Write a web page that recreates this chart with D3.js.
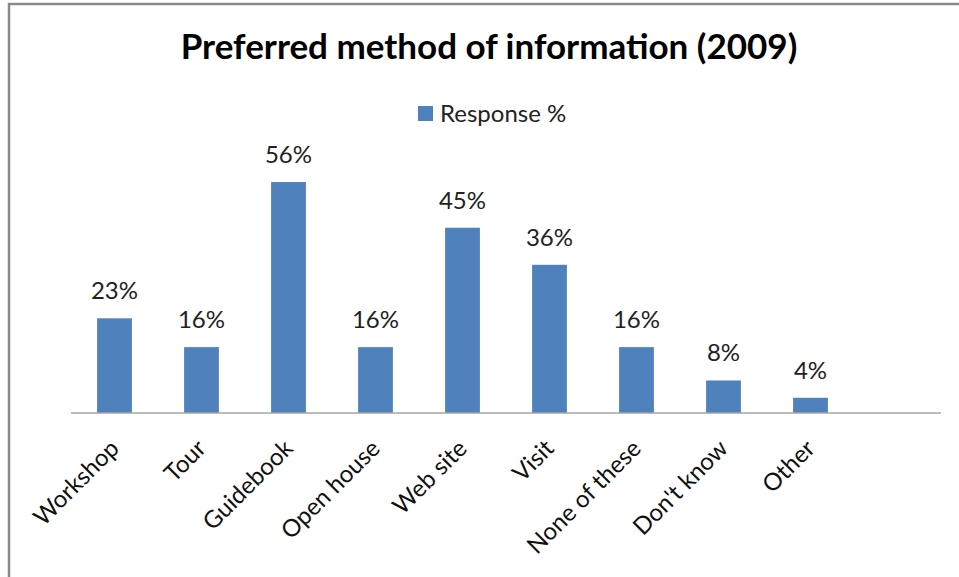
<!DOCTYPE html>
<html>
<head>
<meta charset="utf-8">
<script src="https://cdn.jsdelivr.net/npm/d3@7"></script>
<style>
  html, body { margin: 0; padding: 0; background: #fff; }
  svg { display: block; }
</style>
</head>
<body>
<svg id="chart" width="959" height="577"></svg>
<script>
const title = "Preferred method of information (2009)";
const seriesName = "Response %";
const categories = ["Workshop", "Tour", "Guidebook", "Open house", "Web site", "Visit", "None of these", "Don't know", "Other"];
const values = [23, 16, 56.1, 16, 45, 36, 16, 7.9, 3.7];
const valueLabels = ["23%", "16%", "56%", "16%", "45%", "36%", "16%", "8%", "4%"];
const yDomain = [0, 60];

const W = 959, H = 577;
const FONT = "Lato, 'Open Sans', sans-serif";
const svg = d3.select("#chart");

// chart frame
svg.append("rect")
  .attr("x", 9).attr("y", 4)
  .attr("width", W + 20).attr("height", H + 20)
  .attr("fill", "#fff")
  .attr("stroke", "#8a8a8a").attr("stroke-width", 2.5);

const plot = { left: 71, right: 941, top: 166, bottom: 413 };

// one empty trailing slot as in the original chart
const x = d3.scaleBand()
  .domain(categories.concat([" "]))
  .range([plot.left, plot.right])
  .paddingInner(0.6)
  .paddingOuter(0.3);

const y = d3.scaleLinear().domain(yDomain).range([plot.bottom, plot.top]);

// title
svg.append("text")
  .attr("x", 489).attr("y", 59)
  .attr("text-anchor", "middle")
  .attr("font-family", FONT)
  .attr("font-weight", "bold")
  .attr("font-size", 35)
  .attr("fill", "#000")
  .text(title);

// legend
const lg = svg.append("g").attr("transform", "translate(418,106)");
lg.append("rect").attr("x", 0).attr("y", 0).attr("width", 15).attr("height", 15).attr("fill", "#4f81bd");
lg.append("text").attr("x", 22).attr("y", 16)
  .attr("font-family", FONT).attr("font-size", 24).attr("fill", "#222")
  .text(seriesName);

// bars
svg.append("g").selectAll("rect")
  .data(categories)
  .join("rect")
  .attr("x", d => x(d))
  .attr("width", x.bandwidth())
  .attr("y", (d, i) => y(values[i]))
  .attr("height", (d, i) => y(0) - y(values[i]))
  .attr("fill", "#4f81bd");

// data labels
svg.append("g").selectAll("text")
  .data(categories)
  .join("text")
  .attr("x", d => x(d) + x.bandwidth() / 2)
  .attr("y", (d, i) => y(values[i]) - 19)
  .attr("text-anchor", "middle")
  .attr("font-family", FONT).attr("font-size", 24).attr("fill", "#222")
  .text((d, i) => valueLabels[i]);

// x axis
const xAxis = d3.axisBottom(x).tickSize(0).tickPadding(0);
const gx = svg.append("g")
  .attr("transform", `translate(0,${plot.bottom})`)
  .call(xAxis);
gx.select(".domain").attr("stroke", "#a6a6a6").attr("stroke-width", 1.5)
  .attr("d", `M${plot.left},0H${plot.right}`);
gx.selectAll(".tick text")
  .attr("font-family", FONT).attr("font-size", 24).attr("fill", "#111")
  .attr("text-anchor", "end")
  .attr("dy", "0.35em")
  .attr("y", 0)
  .attr("transform", "translate(0,31) rotate(-45)");
</script>
</body>
</html>
